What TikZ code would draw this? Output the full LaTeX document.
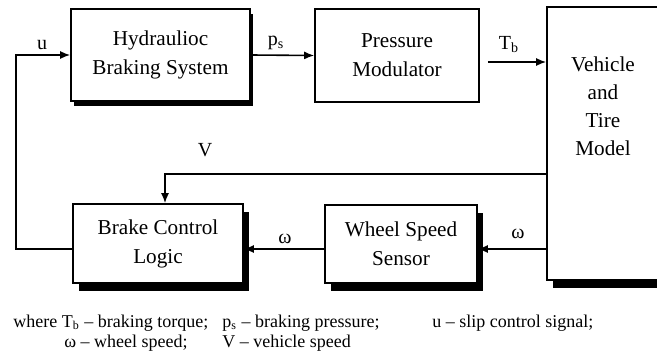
\documentclass[tikz,border=0pt]{standalone}
\usepackage{fontspec}
\setmainfont{Liberation Serif}
\usetikzlibrary{arrows.meta,shadows}
\begin{document}
\begin{tikzpicture}[x=0.5pt,y=-0.5pt,
  box/.style={draw, line width=0.8pt, fill=white, align=center, inner sep=0pt,
    font=\fontsize{10.6}{14.5}\selectfont},
  shbox/.style={box, drop shadow={shadow xshift=3pt, shadow yshift=-4pt, fill=black, opacity=1}},
  smallsh/.style={box, drop shadow={shadow xshift=1.5pt, shadow yshift=-2.5pt, fill=black, opacity=1}},
  conn/.style={line width=0.8pt},
  arr/.style={conn, -{Latex[length=5pt,width=4pt]}},
  lbl/.style={font=\fontsize{10}{12}\selectfont, inner sep=0pt},
  leg/.style={font=\fontsize{9}{11}\selectfont, inner sep=0pt, anchor=base west}]
\useasboundingbox (0,0) rectangle (657,358);
\node[smallsh, minimum width=89.5pt, minimum height=46pt] (hyd) at (160.5,55) {Hydraulioc\\Braking System};
\node[box, minimum width=82pt, minimum height=46.5pt] (pm) at (397,55.5) {Pressure\\Modulator};
\node[shbox, minimum width=56pt, minimum height=136.5pt] (veh) at (603,143.5) {};
\node[align=center, inner sep=0pt, font=\fontsize{10.6}{14}\selectfont] (vehtxt) at (603,106) {Vehicle\\and\\Tire\\Model};
\node[shbox, minimum width=85pt, minimum height=39.5pt] (bcl) at (158,243.5) {Brake Control\\Logic};
\node[shbox, minimum width=76pt, minimum height=39pt] (wss) at (401,244) {Wheel Speed\\Sensor};
\coordinate (wy) at (0,249);
\coordinate (ty) at (0,62);
\coordinate (vy) at (0,174);
\coordinate (lx) at (16,0);
% u feedback
\draw[arr] (bcl.west |- wy) -- (lx |- wy) -- (lx |- hyd.west) -- (hyd.west);
\node[lbl] (ul) at (42,45) {u};
% p_s
\draw[arr] (hyd.east) -- (pm.west);
\node[lbl] (psl) at (276,43) {p\textsubscript{s}};
% T_b
\draw[arr] ([xshift=4pt]pm.east |- ty) -- (veh.west |- ty);
\node[lbl] (tbl) at (509,45) {T\textsubscript{b}};
% V
\draw[arr] (veh.west |- vy) -| ([xshift=3.5pt]bcl.north);
\node[lbl] (vl) at (205,150) {V};
% omega
\draw[arr] (veh.west |- wy) -- (wss.east |- wy);
\node[lbl] (w1) at (518,234) {ω};
\draw[arr] (wss.west |- wy) -- (bcl.east |- wy);
\node[lbl] (w2) at (285,239) {ω};
% legend
\node[leg] (g1) at (13,327) {where T\textsubscript{b} – braking torque;};
\node[leg] (g2) at (222,327) {p\textsubscript{s} – braking pressure;};
\node[leg] (g3) at (432,327) {u – slip control signal;};
\node[leg] (g4) at (64,347) {ω – wheel speed;};
\node[leg] (g5) at (222,347) {V – vehicle speed};
\end{tikzpicture}
\end{document}
